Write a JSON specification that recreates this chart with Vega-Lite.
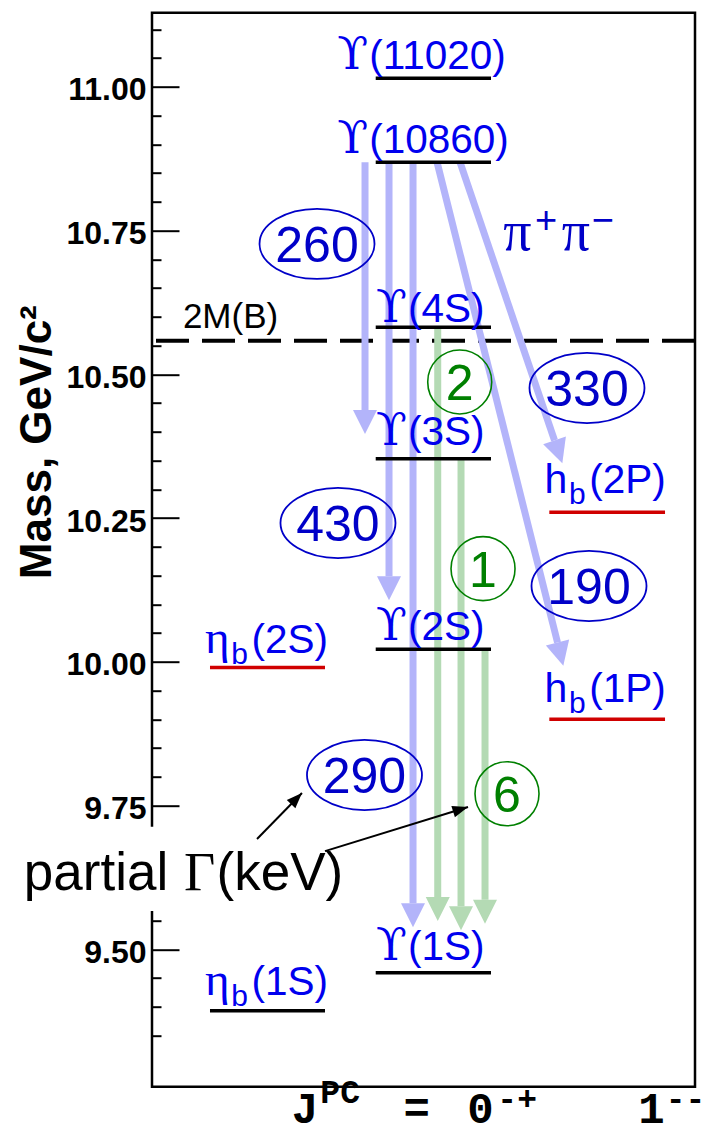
{
  "$schema": "https://vega.github.io/schema/vega-lite/v6.json",
  "description": "Bottomonium levels above and below the BB threshold, with dipion transitions and their partial widths in keV",
  "width": 543,
  "height": 1074,
  "autosize": {"type": "none"},
  "padding": {"left": 152, "top": 12.7, "right": 17, "bottom": 52.3},
  "background": "white",
  "config": {
    "view": {"stroke": "black", "strokeWidth": 2.5},
    "font": "Liberation Sans"
  },
  "datasets": {
    "levels": [
      {"state": "Υ(11020)", "status": "established", "x": 41.2, "x2": 62.43, "m": 11.015},
      {"state": "Υ(10860)", "status": "established", "x": 41.2, "x2": 62.43, "m": 10.869},
      {"state": "Υ(4S)", "status": "established", "x": 41.2, "x2": 62.43, "m": 10.582},
      {"state": "Υ(3S)", "status": "established", "x": 41.2, "x2": 62.43, "m": 10.353},
      {"state": "Υ(2S)", "status": "established", "x": 41.2, "x2": 62.43, "m": 10.022},
      {"state": "Υ(1S)", "status": "established", "x": 41.2, "x2": 62.43, "m": 9.459},
      {"state": "ηb(2S)", "status": "new", "x": 10.68, "x2": 31.86, "m": 9.99},
      {"state": "ηb(1S)", "status": "established", "x": 10.68, "x2": 31.86, "m": 9.393},
      {"state": "hb(2P)", "status": "new", "x": 73.17, "x2": 94.48, "m": 10.26},
      {"state": "hb(1P)", "status": "new", "x": 73.17, "x2": 94.48, "m": 9.9}
    ],
    "labels": [
      {"state": "Υ(11020)", "sym": "ϒ", "sub": "", "rest": "(11020)", "x": 40.0, "m": 11.0308},
      {"state": "Υ(10860)", "sym": "ϒ", "sub": "", "rest": "(10860)", "x": 40.0, "m": 10.8857},
      {"state": "Υ(4S)", "sym": "ϒ", "sub": "", "rest": "(4S)", "x": 47.15, "m": 10.5917},
      {"state": "Υ(3S)", "sym": "ϒ", "sub": "", "rest": "(3S)", "x": 47.15, "m": 10.3772},
      {"state": "Υ(2S)", "sym": "ϒ", "sub": "", "rest": "(2S)", "x": 47.15, "m": 10.0379},
      {"state": "Υ(1S)", "sym": "ϒ", "sub": "", "rest": "(1S)", "x": 47.15, "m": 9.4812},
      {"state": "ηb(2S)", "sym": "η", "sub": "b", "rest": "(2S)", "x": 18.32, "m": 10.0148},
      {"state": "ηb(1S)", "sym": "η", "sub": "b", "rest": "(1S)", "x": 18.32, "m": 9.4203},
      {"state": "hb(2P)", "sym": "h", "sub": "b", "rest": "(2P)", "x": 80.53, "m": 10.2931},
      {"state": "hb(1P)", "sym": "h", "sub": "b", "rest": "(1P)", "x": 80.53, "m": 9.9306}
    ],
    "transitions": [
      {"from": "Υ(10860)", "to": "Υ(3S)", "family": "Υ(10860)", "x": 39.23, "m": 10.869, "x2": 39.23, "m2": 10.438},
      {"from": "Υ(10860)", "to": "Υ(2S)", "family": "Υ(10860)", "x": 43.65, "m": 10.869, "x2": 43.65, "m2": 10.149},
      {"from": "Υ(10860)", "to": "Υ(1S)", "family": "Υ(10860)", "x": 48.07, "m": 10.869, "x2": 48.07, "m2": 9.58},
      {"from": "Υ(10860)", "to": "hb(1P)", "family": "Υ(10860)", "x": 52.49, "m": 10.869, "x2": 74.68, "m2": 10.0336},
      {"from": "Υ(10860)", "to": "hb(2P)", "family": "Υ(10860)", "x": 56.72, "m": 10.869, "x2": 74.13, "m2": 10.385},
      {"from": "Υ(4S)", "to": "Υ(1S)", "family": "Υ(nS)", "x": 52.62, "m": 10.582, "x2": 52.62, "m2": 9.591},
      {"from": "Υ(3S)", "to": "Υ(1S)", "family": "Υ(nS)", "x": 56.91, "m": 10.353, "x2": 56.91, "m2": 9.575},
      {"from": "Υ(2S)", "to": "Υ(1S)", "family": "Υ(nS)", "x": 61.33, "m": 10.022, "x2": 61.33, "m2": 9.586}
    ],
    "widths": [
      {"value": 260, "family": "Υ(10860)", "x": 30.39, "m": 10.7269},
      {"value": 330, "family": "Υ(10860)", "x": 80.11, "m": 10.4763},
      {"value": 430, "family": "Υ(10860)", "x": 34.25, "m": 10.2415},
      {"value": 190, "family": "Υ(10860)", "x": 80.48, "m": 10.1319},
      {"value": 290, "family": "Υ(10860)", "x": 39.13, "m": 9.8031},
      {"value": 2, "family": "Υ(nS)", "x": 56.67, "m": 10.4868},
      {"value": 1, "family": "Υ(nS)", "x": 60.96, "m": 10.162},
      {"value": 6, "family": "Υ(nS)", "x": 65.38, "m": 9.7705}
    ],
    "threshold": [{"label": "2M(B)", "m": 10.5586}],
    "box": [{"x": -25, "x2": 37, "m": 9.5665, "m2": 9.713}],
    "pointers": [
      {"target": "290", "x": 19.34, "m": 9.6917, "x2": 27.62, "m2": 9.7718},
      {"target": "6", "x": 31.86, "m": 9.6708, "x2": 58.2, "m2": 9.7474}
    ],
    "notes": [
      {"text": "π", "role": "pi", "x": 64.7, "m": 10.7164},
      {"text": "+", "role": "piSup", "x": 70.53, "m": 10.745},
      {"text": "π", "role": "pi", "x": 75.45, "m": 10.7164},
      {"text": "−", "role": "piSup", "x": 80.98, "m": 10.745},
      {"text": "2M(B)", "role": "threshold", "x": 5.69, "m": 10.5802},
      {"text": "partial", "role": "callout", "x": -23.6, "m": 9.603},
      {"text": "Γ", "role": "calloutGreek", "x": 5.9, "m": 9.603},
      {"text": "(keV)", "role": "callout", "x": 11.9, "m": 9.603},
      {"text": "J", "role": "jpc", "x": 28.18, "m": 9.1975},
      {"text": "PC", "role": "jpcSup", "x": 31.0, "m": 9.2324},
      {"text": "=", "role": "jpc", "x": 48.75, "m": 9.1975},
      {"text": "0", "role": "jpc", "x": 60.5, "m": 9.1975},
      {"text": "-+", "role": "jpcSup", "x": 63.6, "m": 9.2203},
      {"text": "1", "role": "jpc", "x": 91.99, "m": 9.1975},
      {"text": "--", "role": "jpcSup", "x": 94.6, "m": 9.2203}
    ]
  },
  "layer": [
    {
      "data": {"name": "box"},
      "mark": {"type": "rect", "color": "white"},
      "encoding": {
        "x": {"field": "x", "type": "quantitative", "scale": {"domain": [0, 100], "nice": false, "zero": false}, "axis": null},
        "x2": {"field": "x2"},
        "y": {
          "field": "m", "type": "quantitative",
          "scale": {"domain": [9.261, 11.129], "nice": false, "zero": false},
          "axis": {
            "orient": "left", "zindex": 0,
            "values": [9.5, 9.75, 10, 10.25, 10.5, 10.75, 11],
            "format": ".2f", "ticks": false, "domain": false, "grid": false,
            "labelFont": "Liberation Sans", "labelFontWeight": "bold", "labelFontSize": 32,
            "labelColor": "black", "labelPadding": 6, "labelOffset": 3, "labelOverlap": false, "labelFlush": false,
            "title": "Mass, GeV/c²", "titleFont": "Liberation Sans", "titleFontWeight": "bold",
            "titleFontSize": 44, "titleColor": "black", "titleAngle": 270,
            "titleX": -102, "titleY": 429, "titleAlign": "center", "titleBaseline": "alphabetic"
          }
        },
        "y2": {"field": "m2"}
      }
    },
    {
      "data": {"name": "threshold"},
      "mark": {"type": "rule", "color": "black", "strokeWidth": 4, "strokeDash": [33, 13]},
      "encoding": {
        "y": {
          "field": "m", "type": "quantitative",
          "scale": {"domain": [9.261, 11.129], "nice": false, "zero": false},
          "axis": {
            "orient": "left", "zindex": 0, "title": null,
            "values": [9.5, 9.75, 10, 10.25, 10.5, 10.75, 11],
            "labels": false, "domain": false, "grid": false,
            "ticks": true, "tickSize": -27, "tickWidth": 2, "tickColor": "black"
          }
        }
      }
    },
    {
      "data": {"name": "transitions"},
      "mark": {"type": "rule", "strokeWidth": 7, "strokeCap": "butt"},
      "encoding": {
        "x": {"field": "x", "type": "quantitative", "scale": {"domain": [0, 100], "nice": false, "zero": false}, "axis": null},
        "x2": {"field": "x2"},
        "y": {"field": "m", "type": "quantitative", "scale": {"domain": [9.261, 11.129], "nice": false, "zero": false}, "axis": null},
        "y2": {"field": "m2"},
        "color": {"field": "family", "type": "nominal", "scale": {"domain": ["Υ(10860)", "Υ(nS)"], "range": ["#b3b4fa", "#b4dab4"]}, "legend": null}
      }
    },
    {
      "data": {"name": "transitions"},
      "transform": [{"filter": "datum.x == datum.x2"}],
      "mark": {"type": "point", "shape": "M -1 0 L 1 0 L 0 2 Z", "size": 576, "filled": true, "opacity": 1, "strokeWidth": 0},
      "encoding": {
        "x": {"field": "x2", "type": "quantitative", "scale": {"domain": [0, 100], "nice": false, "zero": false}, "axis": null},
        "y": {"field": "m2", "type": "quantitative", "scale": {"domain": [9.261, 11.129], "nice": false, "zero": false}, "axis": null},
        "color": {"field": "family", "type": "nominal", "scale": {"domain": ["Υ(10860)", "Υ(nS)"], "range": ["#b3b4fa", "#b4dab4"]}, "legend": null}
      }
    },
    {
      "data": {"name": "transitions"},
      "transform": [{"filter": "datum.to == 'hb(1P)'"}],
      "mark": {"type": "point", "shape": "M -1 0 L 1 0 L 0 2 Z", "size": 576, "filled": true, "opacity": 1, "strokeWidth": 0, "angle": 346, "color": "#b3b4fa"},
      "encoding": {
        "x": {"field": "x2", "type": "quantitative", "scale": {"domain": [0, 100], "nice": false, "zero": false}, "axis": null},
        "y": {"field": "m2", "type": "quantitative", "scale": {"domain": [9.261, 11.129], "nice": false, "zero": false}, "axis": null}
      }
    },
    {
      "data": {"name": "transitions"},
      "transform": [{"filter": "datum.to == 'hb(2P)'"}],
      "mark": {"type": "point", "shape": "M -1 0 L 1 0 L 0 2 Z", "size": 576, "filled": true, "opacity": 1, "strokeWidth": 0, "angle": 341, "color": "#b3b4fa"},
      "encoding": {
        "x": {"field": "x2", "type": "quantitative", "scale": {"domain": [0, 100], "nice": false, "zero": false}, "axis": null},
        "y": {"field": "m2", "type": "quantitative", "scale": {"domain": [9.261, 11.129], "nice": false, "zero": false}, "axis": null}
      }
    },
    {
      "data": {"name": "levels"},
      "mark": {"type": "rule", "strokeWidth": 3.5, "strokeCap": "butt"},
      "encoding": {
        "x": {"field": "x", "type": "quantitative", "scale": {"domain": [0, 100], "nice": false, "zero": false}, "axis": null},
        "x2": {"field": "x2"},
        "y": {
          "field": "m", "type": "quantitative",
          "scale": {"domain": [9.261, 11.129], "nice": false, "zero": false},
          "axis": {
            "orient": "left", "zindex": 0, "title": null,
            "values": [9.35, 9.4, 9.45, 9.55, 9.8, 9.85, 9.9, 9.95, 10.05, 10.1, 10.15, 10.2, 10.3, 10.35, 10.4, 10.45, 10.55, 10.6, 10.65, 10.7, 10.8, 10.85, 10.9, 10.95, 11.05, 11.1],
            "labels": false, "domain": false, "grid": false,
            "ticks": true, "tickSize": -9, "tickWidth": 2, "tickColor": "black"
          }
        },
        "color": {"field": "status", "type": "nominal", "scale": {"domain": ["established", "new"], "range": ["black", "#d00000"]}, "legend": null}
      }
    },
    {
      "data": {"name": "labels"},
      "mark": {"type": "text", "align": "left", "baseline": "alphabetic", "font": "Liberation Sans", "fontSize": 40.5, "color": "#0000ee"},
      "encoding": {
        "x": {"field": "x", "type": "quantitative", "scale": {"domain": [0, 100], "nice": false, "zero": false}, "axis": null},
        "y": {"field": "m", "type": "quantitative", "scale": {"domain": [9.261, 11.129], "nice": false, "zero": false}, "axis": null},
        "text": {"field": "rest"}
      }
    },
    {
      "data": {"name": "labels"},
      "transform": [{"filter": "datum.sym == 'ϒ'"}],
      "mark": {"type": "text", "align": "right", "baseline": "alphabetic", "dx": -1, "font": "DejaVu Serif", "fontSize": 45, "color": "#0000ee"},
      "encoding": {
        "x": {"field": "x", "type": "quantitative", "scale": {"domain": [0, 100], "nice": false, "zero": false}, "axis": null},
        "y": {"field": "m", "type": "quantitative", "scale": {"domain": [9.261, 11.129], "nice": false, "zero": false}, "axis": null},
        "text": {"field": "sym"}
      }
    },
    {
      "data": {"name": "labels"},
      "transform": [{"filter": "datum.sym == 'η'"}],
      "mark": {"type": "text", "align": "right", "baseline": "alphabetic", "dx": -22, "font": "Liberation Serif", "fontSize": 47, "color": "#0000ee"},
      "encoding": {
        "x": {"field": "x", "type": "quantitative", "scale": {"domain": [0, 100], "nice": false, "zero": false}, "axis": null},
        "y": {"field": "m", "type": "quantitative", "scale": {"domain": [9.261, 11.129], "nice": false, "zero": false}, "axis": null},
        "text": {"field": "sym"}
      }
    },
    {
      "data": {"name": "labels"},
      "transform": [{"filter": "datum.sym == 'h'"}],
      "mark": {"type": "text", "align": "right", "baseline": "alphabetic", "dx": -22, "font": "Liberation Sans", "fontSize": 41, "color": "#0000ee"},
      "encoding": {
        "x": {"field": "x", "type": "quantitative", "scale": {"domain": [0, 100], "nice": false, "zero": false}, "axis": null},
        "y": {"field": "m", "type": "quantitative", "scale": {"domain": [9.261, 11.129], "nice": false, "zero": false}, "axis": null},
        "text": {"field": "sym"}
      }
    },
    {
      "data": {"name": "labels"},
      "transform": [{"filter": "datum.sub != ''"}],
      "mark": {"type": "text", "align": "right", "baseline": "alphabetic", "dx": -3.5, "dy": 11, "font": "Liberation Sans", "fontSize": 30, "color": "#0000ee"},
      "encoding": {
        "x": {"field": "x", "type": "quantitative", "scale": {"domain": [0, 100], "nice": false, "zero": false}, "axis": null},
        "y": {"field": "m", "type": "quantitative", "scale": {"domain": [9.261, 11.129], "nice": false, "zero": false}, "axis": null},
        "text": {"field": "sub"}
      }
    },
    {
      "data": {"name": "widths"},
      "transform": [{"filter": "datum.family == 'Υ(10860)'"}],
      "mark": {"type": "point", "shape": "M -1 0 A 1 0.61 0 1 1 1 0 A 1 0.61 0 1 1 -1 0 Z", "size": 13225, "filled": false, "opacity": 1, "strokeWidth": 1.8, "color": "#0000c8"},
      "encoding": {
        "x": {"field": "x", "type": "quantitative", "scale": {"domain": [0, 100], "nice": false, "zero": false}, "axis": null},
        "y": {"field": "m", "type": "quantitative", "scale": {"domain": [9.261, 11.129], "nice": false, "zero": false}, "axis": null}
      }
    },
    {
      "data": {"name": "widths"},
      "transform": [{"filter": "datum.family == 'Υ(nS)'"}],
      "mark": {"type": "point", "shape": "circle", "size": 4096, "filled": false, "opacity": 1, "strokeWidth": 1.6, "color": "#008000"},
      "encoding": {
        "x": {"field": "x", "type": "quantitative", "scale": {"domain": [0, 100], "nice": false, "zero": false}, "axis": null},
        "y": {"field": "m", "type": "quantitative", "scale": {"domain": [9.261, 11.129], "nice": false, "zero": false}, "axis": null}
      }
    },
    {
      "data": {"name": "widths"},
      "transform": [{"filter": "datum.family == 'Υ(10860)'"}],
      "mark": {"type": "text", "align": "center", "baseline": "alphabetic", "dy": 18, "font": "Liberation Sans", "fontSize": 50, "color": "#0000c8"},
      "encoding": {
        "x": {"field": "x", "type": "quantitative", "scale": {"domain": [0, 100], "nice": false, "zero": false}, "axis": null},
        "y": {"field": "m", "type": "quantitative", "scale": {"domain": [9.261, 11.129], "nice": false, "zero": false}, "axis": null},
        "text": {"field": "value", "type": "quantitative"}
      }
    },
    {
      "data": {"name": "widths"},
      "transform": [{"filter": "datum.family == 'Υ(nS)'"}],
      "mark": {"type": "text", "align": "center", "baseline": "alphabetic", "dy": 18, "font": "Liberation Sans", "fontSize": 50, "color": "#008000"},
      "encoding": {
        "x": {"field": "x", "type": "quantitative", "scale": {"domain": [0, 100], "nice": false, "zero": false}, "axis": null},
        "y": {"field": "m", "type": "quantitative", "scale": {"domain": [9.261, 11.129], "nice": false, "zero": false}, "axis": null},
        "text": {"field": "value", "type": "quantitative"}
      }
    },
    {
      "data": {"name": "notes"},
      "transform": [{"filter": "datum.role == 'pi'"}],
      "mark": {"type": "text", "align": "left", "baseline": "alphabetic", "font": "Liberation Serif", "fontSize": 56, "color": "#0000c8"},
      "encoding": {
        "x": {"field": "x", "type": "quantitative", "scale": {"domain": [0, 100], "nice": false, "zero": false}, "axis": null},
        "y": {"field": "m", "type": "quantitative", "scale": {"domain": [9.261, 11.129], "nice": false, "zero": false}, "axis": null},
        "text": {"field": "text"}
      }
    },
    {
      "data": {"name": "notes"},
      "transform": [{"filter": "datum.role == 'piSup'"}],
      "mark": {"type": "text", "align": "left", "baseline": "alphabetic", "font": "Liberation Sans", "fontSize": 38, "color": "#0000c8"},
      "encoding": {
        "x": {"field": "x", "type": "quantitative", "scale": {"domain": [0, 100], "nice": false, "zero": false}, "axis": null},
        "y": {"field": "m", "type": "quantitative", "scale": {"domain": [9.261, 11.129], "nice": false, "zero": false}, "axis": null},
        "text": {"field": "text"}
      }
    },
    {
      "data": {"name": "notes"},
      "transform": [{"filter": "datum.role == 'threshold'"}],
      "mark": {"type": "text", "align": "left", "baseline": "alphabetic", "font": "Liberation Sans", "fontSize": 35, "color": "black"},
      "encoding": {
        "x": {"field": "x", "type": "quantitative", "scale": {"domain": [0, 100], "nice": false, "zero": false}, "axis": null},
        "y": {"field": "m", "type": "quantitative", "scale": {"domain": [9.261, 11.129], "nice": false, "zero": false}, "axis": null},
        "text": {"field": "text"}
      }
    },
    {
      "data": {"name": "notes"},
      "transform": [{"filter": "datum.role == 'callout'"}],
      "mark": {"type": "text", "align": "left", "baseline": "alphabetic", "font": "Liberation Sans", "fontSize": 53, "color": "black"},
      "encoding": {
        "x": {"field": "x", "type": "quantitative", "scale": {"domain": [0, 100], "nice": false, "zero": false}, "axis": null},
        "y": {"field": "m", "type": "quantitative", "scale": {"domain": [9.261, 11.129], "nice": false, "zero": false}, "axis": null},
        "text": {"field": "text"}
      }
    },
    {
      "data": {"name": "notes"},
      "transform": [{"filter": "datum.role == 'calloutGreek'"}],
      "mark": {"type": "text", "align": "left", "baseline": "alphabetic", "font": "Liberation Serif", "fontSize": 54, "color": "black"},
      "encoding": {
        "x": {"field": "x", "type": "quantitative", "scale": {"domain": [0, 100], "nice": false, "zero": false}, "axis": null},
        "y": {"field": "m", "type": "quantitative", "scale": {"domain": [9.261, 11.129], "nice": false, "zero": false}, "axis": null},
        "text": {"field": "text"}
      }
    },
    {
      "data": {"name": "notes"},
      "transform": [{"filter": "datum.role == 'jpc'"}],
      "mark": {"type": "text", "align": "center", "baseline": "alphabetic", "font": "Liberation Mono", "fontWeight": "bold", "fontSize": 44, "color": "black"},
      "encoding": {
        "x": {"field": "x", "type": "quantitative", "scale": {"domain": [0, 100], "nice": false, "zero": false}, "axis": null},
        "y": {"field": "m", "type": "quantitative", "scale": {"domain": [9.261, 11.129], "nice": false, "zero": false}, "axis": null},
        "text": {"field": "text"}
      }
    },
    {
      "data": {"name": "notes"},
      "transform": [{"filter": "datum.role == 'jpcSup'"}],
      "mark": {"type": "text", "align": "left", "baseline": "alphabetic", "font": "Liberation Mono", "fontWeight": "bold", "fontSize": 33, "color": "black"},
      "encoding": {
        "x": {"field": "x", "type": "quantitative", "scale": {"domain": [0, 100], "nice": false, "zero": false}, "axis": null},
        "y": {"field": "m", "type": "quantitative", "scale": {"domain": [9.261, 11.129], "nice": false, "zero": false}, "axis": null},
        "text": {"field": "text"}
      }
    },
    {
      "data": {"name": "pointers"},
      "mark": {"type": "rule", "color": "black", "strokeWidth": 2},
      "encoding": {
        "x": {"field": "x", "type": "quantitative", "scale": {"domain": [0, 100], "nice": false, "zero": false}, "axis": null},
        "x2": {"field": "x2"},
        "y": {"field": "m", "type": "quantitative", "scale": {"domain": [9.261, 11.129], "nice": false, "zero": false}, "axis": null},
        "y2": {"field": "m2"}
      }
    },
    {
      "data": {"name": "pointers"},
      "transform": [{"filter": "datum.target == '290'"}],
      "mark": {"type": "point", "shape": "M -1 -2.6 L 1 -2.6 L 0 0 Z", "size": 144, "filled": true, "opacity": 1, "strokeWidth": 0, "angle": 224.3, "color": "black"},
      "encoding": {
        "x": {"field": "x2", "type": "quantitative", "scale": {"domain": [0, 100], "nice": false, "zero": false}, "axis": null},
        "y": {"field": "m2", "type": "quantitative", "scale": {"domain": [9.261, 11.129], "nice": false, "zero": false}, "axis": null}
      }
    },
    {
      "data": {"name": "pointers"},
      "transform": [{"filter": "datum.target == '6'"}],
      "mark": {"type": "point", "shape": "M -1 -2.6 L 1 -2.6 L 0 0 Z", "size": 144, "filled": true, "opacity": 1, "strokeWidth": 0, "angle": 252.9, "color": "black"},
      "encoding": {
        "x": {"field": "x2", "type": "quantitative", "scale": {"domain": [0, 100], "nice": false, "zero": false}, "axis": null},
        "y": {"field": "m2", "type": "quantitative", "scale": {"domain": [9.261, 11.129], "nice": false, "zero": false}, "axis": null}
      }
    }
  ],
  "resolve": {"axis": {"y": "independent"}, "scale": {"color": "independent"}}
}
